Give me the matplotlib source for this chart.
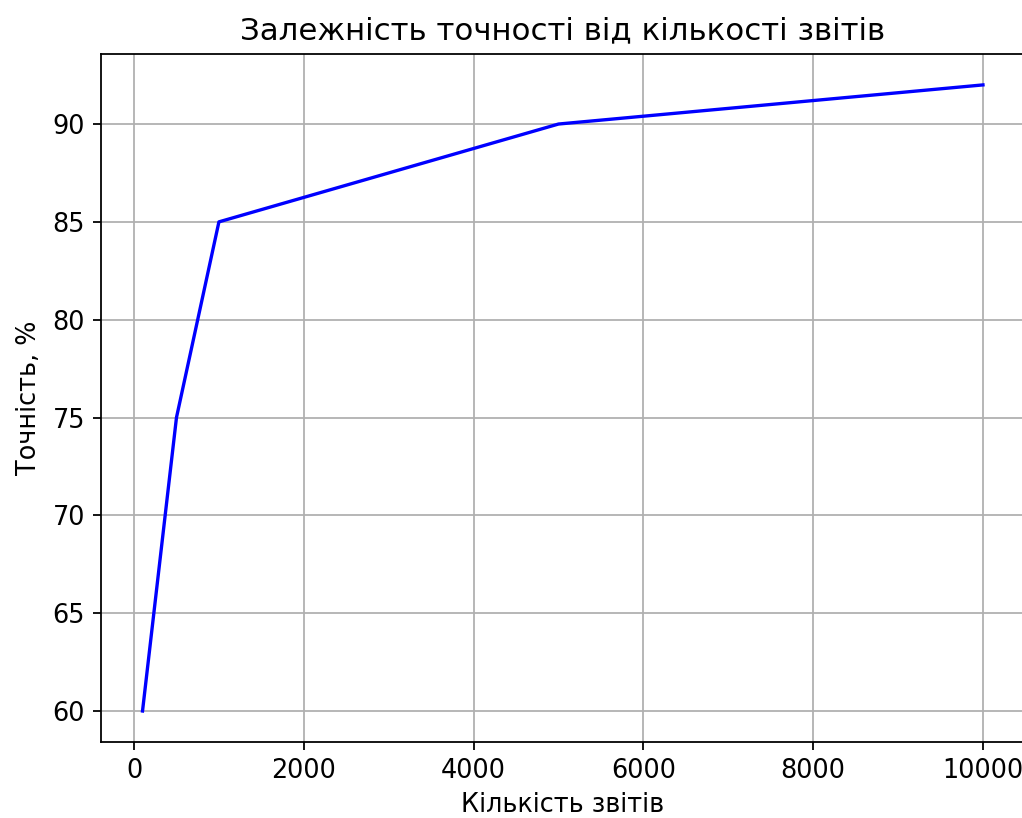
import matplotlib
matplotlib.use("Agg")
import matplotlib.pyplot as plt

reports = [100, 500, 1000, 5000, 10000]
accuracy = [60, 75, 85, 90, 92]

plt.rcParams['font.family'] = ['DejaVu Sans']
plt.rcParams['font.size'] = 11.5
plt.rcParams['axes.titlesize'] = 13.9
plt.rcParams['axes.labelsize'] = 11.5
plt.rcParams['xtick.labelsize'] = 11.5
plt.rcParams['ytick.labelsize'] = 11.5
plt.rcParams['axes.titlepad'] = 6.5
fig = plt.figure(figsize=(1022/160, 818/160), dpi=160)
left, right, top, bottom = 100.5, 1025, 53.6, 742.3
ax = fig.add_axes([left/1022, 1-bottom/818, (right-left)/1022, (bottom-top)/818])
ax.plot(reports, accuracy, color='blue', linewidth=1.5)
ax.set_title('Залежність точності від кількості звітів')
ax.set_xlabel('Кількість звітів', labelpad=3.6)
ax.set_ylabel('Точність, %', labelpad=4.6)
ax.grid(True)
fig.savefig('out.png', dpi=160)
